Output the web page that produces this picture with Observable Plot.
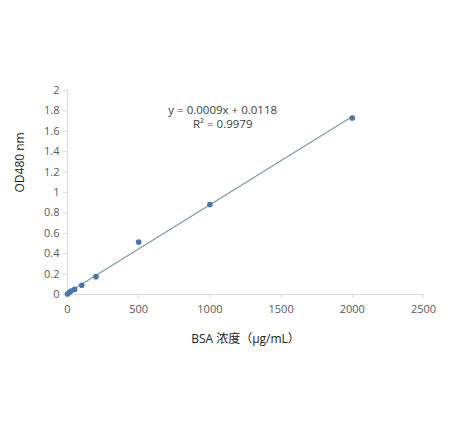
<!DOCTYPE html>
<html><head><meta charset="utf-8">
<script src="https://cdn.jsdelivr.net/npm/d3@7"></script>
<script src="https://cdn.jsdelivr.net/npm/@observablehq/plot@0.6"></script>
<style>
html,body{margin:0;padding:0;background:#fff;}
svg{display:block;}
</style>
</head><body>
<div id="chart"></div>
<script>
const concentrations = [0, 12.5, 25, 50, 100, 200, 500, 1000, 2000];
const od480 = [0.005, 0.02, 0.035, 0.05, 0.09, 0.175, 0.515, 0.882, 1.73];
const xTicks = [0, 500, 1000, 1500, 2000, 2500];
const yTicks = [0, 0.2, 0.4, 0.6, 0.8, 1, 1.2, 1.4, 1.6, 1.8, 2];
const equationLines = ["y = 0.0009x + 0.0118", "R² = 0.9979"];
const equationX = [1090, 1090];
const equationY = [1.81, 1.67];
const xLabel = "BSA 浓度（μg/mL）";
const yLabel = "OD480 nm";

const data = concentrations.map((c, i) => ({c, od: od480[i]}));
const notes = equationLines.map((t, i) => ({t, x: equationX[i], y: equationY[i]}));

const font = "'Open Sans', 'Noto Sans CJK SC', sans-serif";
const chart = Plot.plot({
  width: 451, height: 427,
  marginLeft: 67, marginRight: 28, marginTop: 90, marginBottom: 133,
  style: {fontFamily: font, fontSize: "11px", color: "#595959", background: "#fff"},
  x: {domain: [0, 2500], ticks: xTicks, label: null},
  y: {domain: [0, 2], ticks: yTicks, label: null, tickFormat: d3.format("~g")},
  marks: [
    Plot.ruleY([0], {stroke: "#d9d9d9"}),
    Plot.ruleX([0], {stroke: "#d9d9d9"}),
    Plot.axisX({ticks: xTicks, tickSize: 4, tickPadding: 7, stroke: "#d9d9d9", fill: "#595959", label: null, tickFormat: d3.format("d"), fontSize: 11}),
    Plot.axisY({ticks: yTicks, tickSize: 4, tickPadding: 4, stroke: "#d9d9d9", fill: "#595959", label: null, tickFormat: d3.format("~g"), fontSize: 11}),
    Plot.linearRegressionY(data, {x: "c", y: "od", ci: 0, stroke: "#7c97a6", strokeWidth: 1.2}),
    Plot.dot(data, {x: "c", y: "od", r: 2.8, fill: "#4a74b0", stroke: "none"}),
    Plot.text(notes, {x: "x", y: "y", text: "t", fill: "#404040", fontSize: 11.5, textAnchor: "middle"}),
    Plot.text([xLabel], {frameAnchor: "bottom", dy: 48, fill: "#222", fontSize: 12}),
    Plot.text([yLabel], {frameAnchor: "left", dx: -47, rotate: -90, fill: "#222", fontSize: 12})
  ]
});
document.getElementById("chart").append(chart);
</script>
</body></html>
